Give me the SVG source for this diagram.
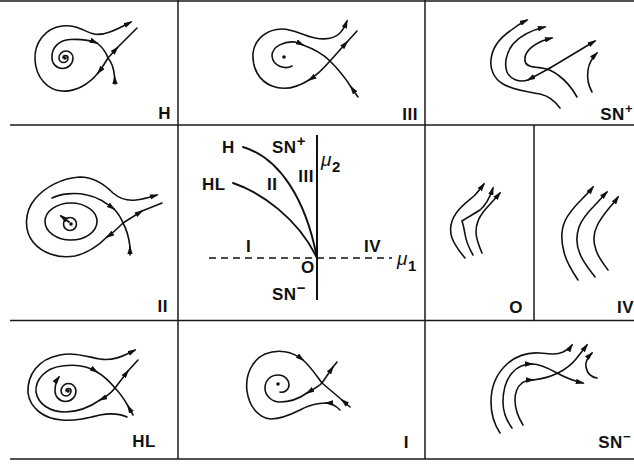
<svg xmlns="http://www.w3.org/2000/svg" width="634" height="464" viewBox="0 0 634 464">
<defs>
<style>
.g{stroke:#1a1a1a;stroke-width:1.5;fill:none}
.c{stroke:#111;stroke-width:1.6;fill:none;stroke-linecap:round}
.m{marker-end:url(#ar)}
.lb{font-family:"Liberation Sans",Arial,sans-serif;font-weight:bold;font-size:17px;letter-spacing:0.5px;fill:#111}
.sp{font-size:13px}
.mu{font-family:"Liberation Sans",Arial,sans-serif;font-style:italic;font-size:19px;fill:#111}
.dot{fill:#111}
</style>
<marker id="ar" viewBox="0 0 10 6" refX="8" refY="3" markerWidth="9" markerHeight="5.6" orient="auto" markerUnits="userSpaceOnUse"><path d="M0,0L10,3L0,6z" fill="#111"/></marker>
</defs>
<rect width="634" height="464" fill="#fff"/>

<g id="grid" class="g">
<line x1="0" y1="1" x2="634" y2="1"/>
<line x1="10" y1="125" x2="634" y2="125"/>
<line x1="10" y1="320.5" x2="634" y2="320.5"/>
<line x1="10" y1="459" x2="634" y2="459"/>
<line x1="178" y1="0" x2="178" y2="459"/>
<line x1="425" y1="0" x2="425" y2="459"/>
<line x1="534" y1="125" x2="534" y2="320.5"/>
</g>

<g id="cell-H">
<circle class="dot" cx="65" cy="58" r="1.8"/>
<path class="c m" d="M63,58 A2.5,2.5 0 0 1 68,58 A4.5,4.5 0 0 1 59,58 A7,7 0 0 1 73,58 A10.5,10.5 0 0 1 52,58 C51,47 60,40 70,39.5 C80,39 90,40 97,43"/>
<path class="c" d="M97,43 C102,47 106,52 108,58"/>
<path class="c m" d="M115,84 L114.6,77"/>
<path class="c" d="M114.6,77 C113.8,68 111.5,62 108,58"/>
<path class="c m" d="M108,58 L117.5,47.5"/>
<path class="c" d="M117.5,47.5 L137,28"/>
<path class="c m" d="M108,58 C105,63 102,68 98,73"/>
<path class="c m" d="M98,73 C89,84 76,92 62,91 C47,90 36,77 35,60 C34,42 46,28 62,26 C76,24 85,32 94,34 C104,36 116,30 131,22"/>
<text class="lb" x="171" y="119" text-anchor="end">H</text>
</g>

<g id="cell-III">
<circle class="dot" cx="284" cy="57" r="1.8"/>
<path class="c m" d="M292,66 C285,70 273,66 272,56 C272,46 285,41 295,42 C298,43 301,44 303,45"/>
<path class="c" d="M303,45 C314,49 323,54 330,61"/>
<path class="c m" d="M358,97 L351,87"/>
<path class="c" d="M351,87 C346,79 338,69 330,61"/>
<path class="c m" d="M330,61 L347,42"/>
<path class="c" d="M347,42 L357,31"/>
<path class="c m" d="M330,61 C324,68 317,75 309,80"/>
<path class="c m" d="M309,80 C298,87 285,91 272,86 C259,81 252,68 253,53 C255,38 268,29 282,29 C294,29 303,36 315,38 C326,40 335,38 340,33 C343,30 345,26 347,21"/>
<text class="lb" x="418" y="120" text-anchor="end">III</text>
</g>

<g id="cell-SNplus">
<path class="c m" d="M560,108 C555,101 549,96 540,94 C528,92 513,90 503,84 C493,78 490,68 491,60 C492,48 500,38 510,31 C515,27 521,23 527,20"/>
<path class="c m" d="M550,68 L528,80"/>
<path class="c m" d="M528,80 C519,83 510,79 507,72 C504,64 506,53 513,44 C520,36 532,30 545,27"/>
<path class="c m" d="M577,97 C572,88 565,80 558,75 C553,71 548,69 542,68 C534,67 526,67 525,61 C524,54 530,47 540,42 C544,40 548,39 552,38"/>
<path class="c m" d="M550,68 L595,41"/>
<path class="c m" d="M592,92 C588,85 587,77 588,70 C589,63 592,58 597,53"/>
<text class="lb" x="633" y="120" text-anchor="end">SN<tspan class="sp" dy="-7">+</tspan></text>
</g>

<g id="cell-II">
<circle class="dot" cx="71" cy="224" r="1.8"/>
<circle class="c" cx="70" cy="224" r="6.5"/>
<path class="c m" d="M69,222 L61,216" style="stroke-width:2"/>
<ellipse class="c" cx="71" cy="221.5" rx="26" ry="18.5"/>
<path class="c m" d="M52,198 C60,194 74,192 87,195 C98,197 106,203 114,209"/>
<path class="c" d="M114,209 C118,213 121,218 123,223"/>
<path class="c m" d="M130,255 L130,247"/>
<path class="c" d="M130,247 C129,238 127,230 123,223"/>
<path class="c m" d="M123,223 L142,211"/>
<path class="c" d="M142,211 L162,203"/>
<path class="c m" d="M123,223 C118,228 113,233 107,237"/>
<path class="c m" d="M107,237 C99,245 88,253 75,256 C58,259 42,253 33,242 C24,231 24,212 35,199 C45,187 62,178 80,177 C93,177 104,184 113,193 C120,199 127,201 136,200 C144,199 150,197 157,195"/>
<text class="lb" x="168" y="312" text-anchor="end">II</text>
</g>

<g id="cell-bifurcation">
<line x1="317" y1="135" x2="317" y2="300" stroke="#111" stroke-width="2"/>
<line x1="209" y1="258" x2="392" y2="258" stroke="#111" stroke-width="1.5" stroke-dasharray="7,5"/>
<path class="c" style="stroke-width:1.9" d="M243,147 C280,158 306,200 317,258"/>
<path class="c" style="stroke-width:1.9" d="M233,183 C260,192 298,218 317,258"/>
<text class="lb" x="222" y="153">H</text>
<text class="lb" x="272" y="153">SN<tspan class="sp" dy="-7" style="font-size:15px">+</tspan></text>
<text class="lb" x="314" y="182" text-anchor="end">III</text>
<text class="lb" x="202" y="190">HL</text>
<text class="lb" x="267" y="190">II</text>
<text class="lb" x="246" y="252">I</text>
<text class="lb" x="364" y="252">IV</text>
<text class="lb" x="301" y="273">O</text>
<text class="lb" x="272" y="300">SN<tspan class="sp" dy="-7" style="font-size:15px">−</tspan></text>
<text class="mu" x="321" y="166">μ</text>
<text class="lb" x="332" y="172" style="font-size:15px">2</text>
<text class="mu" x="397" y="265">μ</text>
<text class="lb" x="408" y="271" style="font-size:15px">1</text>
</g>

<g id="cell-O">
<path class="c m" d="M465,258 C460,252 455,246 452,238 C449,229 451,220 457,212 C462,205 468,201 474,196 C478,192 481,188 484,184"/>
<path class="c m" d="M473,255 C469,248 466,241 465,234 C464,228 463,224 462,221 C468,217 474,214 480,210 C486,205 490,197 493,188"/>
<path class="c m" d="M482,253 C479,246 476,239 476,232 C476,224 479,217 484,211 C489,205 495,199 500,193"/>
<text class="lb" x="523" y="313" text-anchor="end">O</text>
</g>

<g id="cell-IV">
<path class="c m" d="M578,280 C572,271 566,262 564,252 C561,241 561,230 565,221 C569,212 576,205 582,199 C586,195 590,191 593,187"/>
<path class="c m" d="M595,277 C589,269 583,262 580,254 C576,245 576,236 579,227 C582,219 588,212 595,205 C599,201 603,196 607,192"/>
<path class="c m" d="M608,270 C603,263 598,257 596,250 C593,242 593,234 597,226 C600,219 605,213 610,207 C613,204 616,200 618,197"/>
<text class="lb" x="634" y="313" text-anchor="end">IV</text>
</g>

<g id="cell-HL">
<circle class="dot" cx="68" cy="391" r="1.8"/>
<path class="c m" d="M66,391 A2.5,2.5 0 0 1 71,391 A5,5 0 0 1 61,391 A7.5,7.5 0 0 1 76,391 A10.5,10.5 0 0 1 55,391 C55,386 56,381 59,377"/>
<path class="c m" d="M115,388 C111,393 106,397 100,400"/>
<path class="c m" d="M100,400 C90,407 78,412 65,412 C50,412 38,404 36,392 C35,380 45,368 62,366 C76,364 88,366 97,372"/>
<path class="c" d="M97,372 C104,376 110,382 115,388"/>
<path class="c m" d="M127,417 C118,413 110,413 100,415 C88,418 76,421 62,420 C44,419 30,408 28,393 C27,375 38,359 60,355 C75,352 88,357 100,359 C112,361 122,357 135,350"/>
<path class="c m" d="M133,415 L128,406"/>
<path class="c" d="M128,406 C124,399 120,393 115,388"/>
<path class="c m" d="M115,388 L128,371"/>
<path class="c" d="M128,371 L138,360"/>
<text class="lb" x="156" y="447" text-anchor="end">HL</text>
</g>

<g id="cell-I">
<circle class="dot" cx="278" cy="384" r="1.8"/>
<path class="c m" d="M322,383 C318,387 312,390 307,393"/>
<path class="c" d="M307,393 C300,398 290,402 280,402 C272,402 265,396 265,388 C265,380 271,375 278,375 C285,375 289,380 289,385 C289,390 284,393 280,392"/>
<path class="c m" d="M340,410 C336,406 331,403 326,403"/>
<path class="c m" d="M326,403 C318,403 309,405 300,410 C290,415 281,419 271,419 C258,418 249,406 247,391 C245,375 252,360 265,354 C278,349 292,351 303,360"/>
<path class="c" d="M303,360 C310,366 316,375 322,383"/>
<path class="c m" d="M322,383 L333,367"/>
<path class="c" d="M333,367 L337,362"/>
<path class="c m" d="M350,407 L342,400"/>
<path class="c" d="M342,400 L322,383"/>
<text class="lb" x="409" y="448" text-anchor="end">I</text>
</g>

<g id="cell-SNminus">
<path class="c m" d="M500,433 C494,424 491,414 491,402 C491,388 496,374 507,364 C516,356 528,352 540,353 C550,354 556,355 563,352 C567,350 570,348 572,345"/>
<path class="c m" d="M512,428 C506,420 503,411 503,402 C503,390 506,380 512,373 C517,367 524,364 532,364"/>
<path class="c m" d="M532,364 C540,364 548,368 557,373 C566,378 574,381 583,383"/>
<path class="c m" d="M523,425 C518,417 515,408 515,400 C515,393 517,387 522,383 C525,381 529,380 533,380"/>
<path class="c m" d="M533,380 C541,379 550,377 558,373 C566,369 572,364 576,359 C580,354 584,349 587,345"/>
<path class="c m" d="M597,378 C591,377 587,373 586,367 C585,362 588,357 592,353"/>
<text class="lb" x="631" y="448" text-anchor="end">SN<tspan class="sp" dy="-7">−</tspan></text>
</g>
</svg>
